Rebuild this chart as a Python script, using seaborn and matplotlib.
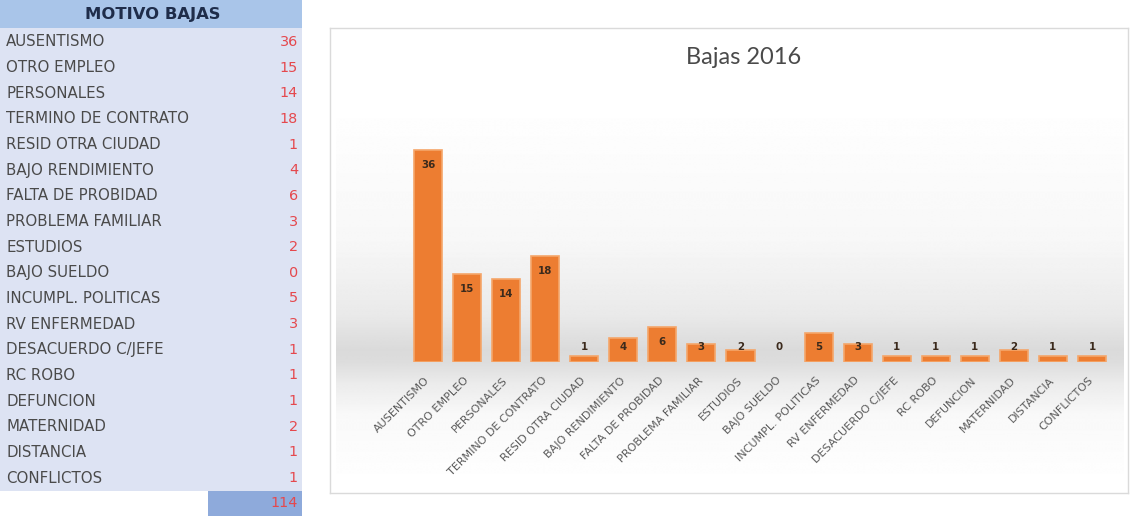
import numpy as np
import matplotlib
matplotlib.use("Agg")
import matplotlib.pyplot as plt
import seaborn as sns
from matplotlib.patches import Rectangle

# Motivos de baja y número de bajas por motivo
motivos = [
    "AUSENTISMO", "OTRO EMPLEO", "PERSONALES", "TERMINO DE CONTRATO",
    "RESID OTRA CIUDAD", "BAJO RENDIMIENTO", "FALTA DE PROBIDAD",
    "PROBLEMA FAMILIAR", "ESTUDIOS", "BAJO SUELDO", "INCUMPL. POLITICAS",
    "RV ENFERMEDAD", "DESACUERDO C/JEFE", "RC ROBO", "DEFUNCION",
    "MATERNIDAD", "DISTANCIA", "CONFLICTOS",
]
bajas = [36, 15, 14, 18, 1, 4, 6, 3, 2, 0, 5, 3, 1, 1, 1, 2, 1, 1]
titulo = "Bajas 2016"
encabezado = "MOTIVO BAJAS"

sns.set_theme(style="white")
plt.rcParams["font.family"] = ["DejaVu Sans"]

W, H = 1131, 516
fig = plt.figure(figsize=(W / 100, H / 100), dpi=100)
fig.patch.set_facecolor("white")


def px_axes(x, y, w, h, **kw):
    return fig.add_axes([x / W, 1 - (y + h) / H, w / W, h / H], **kw)


# ---------------- tabla de motivos ----------------
tab = px_axes(0, 0, 302, 516)
tab.set_xlim(0, 302)
tab.set_ylim(516, 0)
tab.axis("off")
tab.add_patch(Rectangle((0, 0), 302, 28, color="#a9c5e9", lw=0))
tab.add_patch(Rectangle((0, 28), 302, 463, color="#dde3f3", lw=0))
tab.add_patch(Rectangle((208, 491), 94, 25, color="#8eaadb", lw=0))
tab.text(153, 15, encabezado, ha="center", va="center", fontsize=11.8,
         fontweight="bold", color="#1f2d4a")
row_h = 25.65
for i, (m, v) in enumerate(zip(motivos, bajas)):
    yc = 42 + i * row_h
    tab.text(6, yc, m, ha="left", va="center", fontsize=10.8, color="#4a4a4a")
    tab.text(298, yc, str(v), ha="right", va="center", fontsize=10.4,
             color="#e5484d")
tab.text(298, 503, str(sum(bajas)), ha="right", va="center", fontsize=10.4,
         color="#e5484d")

# ---------------- marco del gráfico ----------------
frame = px_axes(330, 28, 798, 465)
frame.set_xticks([])
frame.set_yticks([])
frame.set_facecolor("white")
for s in frame.spines.values():
    s.set_color("#dadada")
    s.set_linewidth(1)

# degradado del área de trazado
grad_ax = px_axes(336, 100, 788, 385)
ys = np.linspace(100, 485, 400)
stops_y = [100, 240, 315, 350, 362, 382, 415, 485]
stops_v = [1.0, 0.97, 0.915, 0.855, 0.865, 0.92, 0.975, 1.0]
g = np.interp(ys, stops_y, stops_v)
grad_ax.imshow(np.repeat(g[:, None], 2, axis=1), cmap="gray", vmin=0, vmax=1,
               aspect="auto", interpolation="bilinear")
grad_ax.axis("off")

fig.text(744 / W, 1 - 58 / H, titulo, ha="center", va="center",
         fontsize=17, color="#4a4a4a", family=["Lato", "DejaVu Sans"])

# ---------------- barras ----------------
ax = px_axes(408.5, 126, 703, 236)
ax.patch.set_alpha(0)
sns.barplot(x=motivos, y=bajas, color="#ed7d31", saturation=1, width=0.72,
            edgecolor="#f5a66a", linewidth=1.2, ax=ax)
for p in ax.patches:
    if p.get_height() == 0:
        p.set_linewidth(0)
ax.set_xlim(-0.5, len(motivos) - 0.5)
ax.set_ylim(0, 40)
ax.set_yticks([])
ax.set_xlabel("")
ax.set_ylabel("")
for s in ax.spines.values():
    s.set_visible(False)
ax.tick_params(axis="x", length=0, pad=12)
ax.set_xticks(range(len(motivos)))
ax.set_xticklabels(motivos, rotation=45, ha="right", va="center",
                   rotation_mode="anchor", fontsize=8, color="#5a5a5a")

for i, v in enumerate(bajas):
    ax.text(i, max(v - 2.55, 2.55), str(v), ha="center", va="center",
            fontsize=7.4, fontweight="bold", color="#3b2a1c")

fig.savefig("out.png", dpi=100, facecolor="white")
